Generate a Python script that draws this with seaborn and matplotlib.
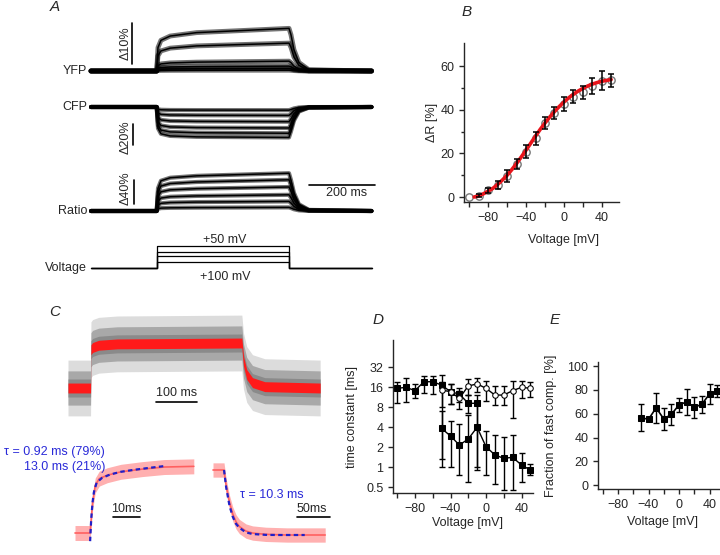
import pandas as pd
import matplotlib.pyplot as plt
import seaborn as sns

# %% DATA

# A - fluorescence traces (time in ms, change in %)
t_a = [0, 199, 203, 212, 240, 320, 600, 606, 615, 630, 660, 850]
yfp_shape = [0, 0, 0.55, 0.72, 0.82, 0.9, 1.0, 0.85, 0.5, 0.2, 0.03, 0]
cfp_shape = [0, 0, 0.7, 0.88, 0.95, 0.98, 1.0, 0.8, 0.45, 0.15, 0.02, 0]
ratio_shape = [0, 0, 0.6, 0.8, 0.88, 0.93, 1.0, 0.82, 0.48, 0.18, 0.03, 0]
yfp_levels = [10.4, 6.8, 2.4, 1.2, 0.6, 0.2]
cfp_levels = [-29, -25, -20, -14, -8, -3]
ratio_levels = [63, 52, 40, 27, 16, 6]
t_pulse = [0, 200, 200, 600, 600, 850]
hold_mv = -100
step_mv = [-60, -20, 10, 50]

# B - dR vs voltage
v_b = [-100, -90, -80, -70, -60, -50, -40, -30, -20, -10, 0, 10, 20, 30, 40, 50]
dr_b = [0, 0.6, 3.0, 5.6, 9.5, 15.0, 20.8, 27.0, 33.9, 38.5, 42.6, 46.0, 48.0, 51.0, 53.3, 53.4]
dr_err = [0, 0.6, 1.0, 1.8, 2.7, 2.4, 2.9, 3.0, 2.9, 2.7, 3.3, 3.0, 3.0, 3.6, 4.2, 3.0]
v_fit = [-95, -90, -85, -80, -75, -70, -65, -60, -55, -50, -45, -40, -35, -30, -25,
         -20, -15, -10, -5, 0, 5, 10, 15, 20, 25, 30, 35, 40, 45, 50]
dr_fit = [0, 0.5, 1.5, 2.7, 4.0, 5.8, 7.8, 10, 12.6, 15.4, 18.4, 21.5, 24.7, 27.9, 31,
          33.9, 36.6, 39.1, 41.4, 43.5, 45.4, 47, 48.5, 49.7, 50.8, 51.7, 52.4, 53, 53.4, 53.8]

# C - averaged trace (normalised)
t_c = [0, 55, 56, 60, 75, 120, 424, 428, 436, 450, 480, 615]
fret_c = [0, 0, 0.85, 0.9, 0.95, 0.98, 1.0, 0.6, 0.3, 0.12, 0.03, 0]
t_on = [0, 5.6, 6.5, 7.5, 9, 12, 17, 25, 33, 44]
on_trace = [0, 0, 0.45, 0.7, 0.8, 0.85, 0.9, 0.94, 0.97, 0.98]
t_on_fit = [5.6, 6.0, 6.5, 7.0, 8.0, 10, 13, 17, 22, 28, 33.3]
on_fit = [-0.12, 0.2, 0.45, 0.6, 0.74, 0.81, 0.86, 0.9, 0.93, 0.96, 0.985]
t_off = [0, 16.7, 20, 25, 30, 35, 40, 50, 60, 80, 112, 170]
off_trace = [1, 1, 0.75, 0.5, 0.32, 0.2, 0.13, 0.06, 0.03, 0.01, 0, 0]
t_off_fit = [16.7, 20, 25, 30, 35, 40, 50, 60, 80, 100, 139]
off_fit = [1, 0.73, 0.45, 0.28, 0.17, 0.11, 0.04, 0.015, 0.002, 0, 0]

# D - time constants
v_d1 = [-100, -90, -80, -70, -60, -50, -40, -30, -20, -10]
tau_1 = [15.3, 15.8, 14.1, 19.2, 19.2, 17.1, 13.6, 12.5, 9.1, 9.1]
tau_1_lo = [9.1, 9.5, 11.0, 13.0, 12.5, 1.0, 9.0, 9.5, 6.5, 1.0]
tau_1_hi = [19.2, 22.0, 17.5, 23.5, 23.5, 24.0, 17.5, 15.5, 12.0, 12.0]
v_d2 = [-50, -40, -30, -20, -10, 0, 10, 20, 30, 40, 50]
tau_slow = [14.4, 13.6, 10.8, 16.6, 17.8, 15.3, 12.1, 12.1, 14.1, 15.8, 15.3]
tau_slow_lo = [8.0, 9.0, 7.5, 12.0, 13.5, 10.0, 8.5, 8.5, 5.5, 11.0, 11.5]
tau_slow_hi = [19.0, 18.0, 14.0, 21.0, 22.0, 20.0, 16.5, 16.5, 20.0, 20.0, 19.0]
tau_fast = [3.8, 2.93, 2.14, 2.64, 3.96, 2.02, 1.52, 1.35, 1.4, 1.07, 0.9]
tau_fast_lo = [1.3, 1.0, 0.75, 0.6, 0.9, 0.75, 0.55, 0.45, 0.45, 0.6, 0.75]
tau_fast_hi = [7.0, 5.0, 4.5, 6.0, 8.5, 3.5, 3.0, 2.8, 3.0, 1.6, 1.1]

# E - fraction of fast component
v_e = [-50, -40, -30, -20, -10, 0, 10, 20, 30, 40, 50]
frac = [56.7, 55.3, 65, 55.6, 59.5, 67.4, 70, 65.4, 68, 76.6, 79]
frac_err = [11.6, 1, 12.4, 9, 8.7, 5.6, 10.8, 9, 7, 8.4, 5]

# %% STYLE
sns.set_style("ticks")
plt.rcParams["font.family"] = ["Liberation Sans", "DejaVu Sans"]
plt.rcParams["font.size"] = 9
plt.rcParams["axes.linewidth"] = 1.0
plt.rcParams["xtick.major.size"] = 3.5
plt.rcParams["ytick.major.size"] = 3.5
plt.rcParams["xtick.minor.size"] = 3.5
plt.rcParams["ytick.minor.size"] = 2
plt.rcParams["xtick.major.width"] = 1.0
plt.rcParams["ytick.major.width"] = 1.0
plt.rcParams["xtick.minor.width"] = 1.0
plt.rcParams["ytick.minor.width"] = 1.0
plt.rcParams["xtick.labelsize"] = 9
plt.rcParams["ytick.labelsize"] = 9

W, H = 720, 555
fig = plt.figure(figsize=(W / 100, H / 100), dpi=100)


def place(x0, y0, x1, y1):
    return fig.add_axes([x0 / W, 1 - y1 / H, (x1 - x0) / W, (y1 - y0) / H])


def span(p0, p1, pa, va, pb, vb):
    s = (vb - va) / (pb - pa)
    return (va + (p0 - pa) * s, va + (p1 - pa) * s)


def ftext(x, y, s, **kw):
    fig.text(x / W, 1 - y / H, s, **kw)


def bare(ax):
    ax.set_axis_off()


def neg(vals):
    return [str(v).replace("-", "\u2212") for v in vals]


# %% PANEL A
def trace_axes(y0, y1, pa, va, pb, vb):
    ax = place(60, y0, 380, y1)
    ax.set_xlim(span(60, 380, 91, 0, 289, 600))
    ax.set_ylim(span(y1, y0, pa, va, pb, vb))
    bare(ax)
    return ax


def traces(ax, levels, shape, band):
    for lv in levels:
        y = [lv * s for s in shape]
        ax.plot(t_a, y, color="black", lw=band, alpha=0.55, solid_joinstyle="round")
        sns.lineplot(x=t_a, y=y, color="black", lw=1.1, ax=ax, sort=False, estimator=None)


ax_y = trace_axes(15, 90, 71, 0, 30, 10)
traces(ax_y, yfp_levels, yfp_shape, 3.5)
ax_y.plot([124, 124], [1.7, 11.7], color="black", lw=1.2)
ax_y.text(106, 6.7, "Δ10%", rotation=90, ha="center", va="center", fontsize=9)

ax_cf = trace_axes(92, 160, 107, 0, 128, -20)
traces(ax_cf, cfp_levels, cfp_shape, 3.0)
ax_cf.plot([127, 127], [-16.2, -36.2], color="black", lw=1.2)
ax_cf.text(106, -28.6, "Δ20%", rotation=90, ha="center", va="center", fontsize=9)

ax_r = trace_axes(160, 225, 211, 0, 187, 40)
traces(ax_r, ratio_levels, ratio_shape, 3.0)
ax_r.plot([130, 130], [11.7, 51.7], color="black", lw=1.2)
ax_r.text(106, 38, "Δ40%", rotation=90, ha="center", va="center", fontsize=9)
ax_r.plot([662, 862], [43, 43], color="black", lw=1.2)
ax_r.text(773, 30, "200 ms", ha="center", va="center", fontsize=9)

ax_v = trace_axes(235, 285, 268, hold_mv, 246, 50)
for mv in step_mv:
    sns.lineplot(x=t_pulse, y=[hold_mv, hold_mv, mv, mv, hold_mv, hold_mv],
                 color="black", lw=0.9, ax=ax_v, sort=False, estimator=None)

ftext(87, 71, "YFP", ha="right", va="center")
ftext(87, 107, "CFP", ha="right", va="center")
ftext(87, 211, "Ratio", ha="right", va="center")
ftext(87, 268, "Voltage", ha="right", va="center")
ftext(225, 240, "+50 mV", ha="center", va="center")
ftext(225, 277, "+100 mV", ha="center", va="center")
ftext(50, 7, "A", ha="left", va="center", fontsize=11, style="italic")

# %% PANEL B
ax_b = place(464, 43, 619, 202)
ax_b.set_xlim(span(464, 619, 488.3, -80, 601.7, 40))
ax_b.set_ylim(span(202, 43, 197, 0, 66, 60))
sns.scatterplot(x=v_b, y=dr_b, marker="o", s=28, facecolor="white",
                edgecolor="#777777", linewidth=1, ax=ax_b, zorder=2)
sns.lineplot(x=v_fit, y=dr_fit, color="#e8141b", lw=2.6, ax=ax_b, zorder=3)
ax_b.errorbar(v_b[1:], dr_b[1:], yerr=dr_err[1:], fmt="none", ecolor="black",
              elinewidth=1.1, capsize=2.5, capthick=1.1, zorder=4)
ax_b.set_xticks([-80, -40, 0, 40])
ax_b.set_xticklabels(neg([-80, -40, 0, 40]))
ax_b.set_xticks([-100, -60, -20, 20], minor=True)
ax_b.set_yticks([0, 20, 40, 60])
ax_b.set_yticks([10, 30, 50], minor=True)
sns.despine(ax=ax_b)
ax_b.set_xlabel("Voltage [mV]")
ax_b.set_ylabel("ΔR [%]")
ax_b.xaxis.set_label_coords(0.64, -0.2)
ax_b.yaxis.set_label_coords(-0.17, 0.5)
ftext(467, 12, "B", ha="center", va="center", fontsize=11, style="italic")

# %% PANEL C
ax_c = place(60, 300, 330, 420)
ax_c.set_xlim(span(60, 330, 68, 0, 109, 100))
ax_c.set_ylim(span(420, 300, 388, 0, 343, 1))
bare(ax_c)
ax_c.fill_between(t_c, [v - 0.62 for v in fret_c], [v + 0.62 for v in fret_c],
                  color="#dcdcdc", lw=0)
ax_c.fill_between(t_c, [v - 0.38 for v in fret_c], [v + 0.38 for v in fret_c],
                  color="#a8a8a8", lw=0)
ax_c.fill_between(t_c, [v - 0.2 for v in fret_c], [v + 0.2 for v in fret_c],
                  color="#8a8a8a", lw=0)
ax_c.fill_between(t_c, [v - 0.11 for v in fret_c], [v + 0.11 for v in fret_c],
                  color="#ff1a1a", lw=0)
ax_c.plot([215, 315], [-0.31, -0.31], color="black", lw=1.2)
ax_c.text(265, -0.25, "100 ms", ha="center", va="bottom", fontsize=9)
ftext(55, 312, "C", ha="center", va="center", fontsize=11, style="italic")

ax_on = place(60, 430, 205, 555)
ax_on.set_xlim(span(60, 205, 75, 0, 102, 10))
ax_on.set_ylim(span(555, 430, 533, 0, 465, 1))
bare(ax_on)
ax_on.fill_between(t_on, [v - 0.11 for v in on_trace], [v + 0.11 for v in on_trace],
                   color="#ffb0b0", lw=0)
sns.lineplot(x=t_on, y=on_trace, color="#ff6060", lw=1.2, ax=ax_on, sort=False, estimator=None)
ax_on.plot(t_on_fit, on_fit, color="#2020c8", lw=1.6, dashes=(2, 1.5))
ax_on.plot([14.1, 24.1], [0.235, 0.235], color="black", lw=1.2)
ax_on.text(19.1, 0.27, "10ms", ha="center", va="bottom", fontsize=9)
ftext(105, 452, "τ = 0.92 ms (79%)", ha="right", va="center", color="#2a2ad8")
ftext(105, 467, "13.0 ms (21%)", ha="right", va="center", color="#2a2ad8")

ax_off = place(205, 430, 335, 555)
ax_off.set_xlim(span(205, 335, 213, 0, 246, 50))
ax_off.set_ylim(span(555, 430, 535, 0, 470, 1))
bare(ax_off)
ax_off.fill_between(t_off, [v - 0.11 for v in off_trace], [v + 0.11 for v in off_trace],
                    color="#ffb0b0", lw=0)
sns.lineplot(x=t_off, y=off_trace, color="#ff6060", lw=1.2, ax=ax_off, sort=False, estimator=None)
ax_off.plot(t_off_fit, off_fit, color="#2020c8", lw=1.6, dashes=(2, 1.5))
ax_off.plot([127, 177], [0.28, 0.28], color="black", lw=1.2)
ax_off.text(150, 0.31, "50ms", ha="center", va="bottom", fontsize=9)
ftext(272, 495, "τ = 10.3 ms", ha="center", va="center", color="#2a2ad8")

# %% PANEL D
ax_d = place(393, 340, 533, 493)
ax_d.set_yscale("log", base=2)
ax_d.set_xlim(span(393, 533, 486, 0, 521.5, 40))
lo, hi = span(493, 340, 467, 0, 447, 1)
ax_d.set_ylim(2 ** lo, 2 ** hi)
ax_d.errorbar(v_d1, tau_1, yerr=[[a - b for a, b in zip(tau_1, tau_1_lo)],
                                 [b - a for a, b in zip(tau_1, tau_1_hi)]],
              fmt="none", ecolor="black", elinewidth=1, capsize=2, capthick=1)
ax_d.errorbar(v_d2, tau_slow, yerr=[[a - b for a, b in zip(tau_slow, tau_slow_lo)],
                                    [b - a for a, b in zip(tau_slow, tau_slow_hi)]],
              fmt="none", ecolor="black", elinewidth=1, capsize=2, capthick=1)
ax_d.errorbar(v_d2, tau_fast, yerr=[[a - b for a, b in zip(tau_fast, tau_fast_lo)],
                                    [b - a for a, b in zip(tau_fast, tau_fast_hi)]],
              fmt="none", ecolor="black", elinewidth=1, capsize=2, capthick=1)
sns.lineplot(x=v_d1, y=tau_1, color="black", lw=1, marker="s", markersize=4,
             markeredgecolor="black", ax=ax_d)
sns.lineplot(x=v_d2, y=tau_fast, color="black", lw=1, marker="s", markersize=4,
             markeredgecolor="black", ax=ax_d)
sns.lineplot(x=v_d2, y=tau_slow, color="black", lw=1, marker="o", markersize=4,
             markerfacecolor="white", markeredgecolor="black", ax=ax_d)
ax_d.set_yticks([0.5, 1, 2, 4, 8, 16, 32])
ax_d.set_yticklabels(["0.5", "1", "2", "4", "8", "16", "32"])
ax_d.yaxis.set_minor_locator(plt.NullLocator())
ax_d.set_xticks([-80, -40, 0, 40])
ax_d.set_xticklabels(neg([-80, -40, 0, 40]))
ax_d.set_xticks([-100, -60, -20, 20], minor=True)
sns.despine(ax=ax_d)
ax_d.set_xlabel("Voltage [mV]")
ax_d.set_ylabel("time constant [ms]")
ax_d.xaxis.set_label_coords(0.53, -0.155)
ax_d.yaxis.set_label_coords(-0.25, 0.5)
ftext(378, 320, "D", ha="center", va="center", fontsize=11, style="italic")

# %% PANEL E
ax_e = place(598, 362, 720, 489)
ax_e.set_xlim(span(598, 720, 679, 0, 709.5, 40))
ax_e.set_ylim(span(489, 362, 485, 0, 390, 80))
ax_e.errorbar(v_e, frac, yerr=frac_err, fmt="none", ecolor="black",
              elinewidth=1, capsize=2, capthick=1)
sns.lineplot(x=v_e, y=frac, color="black", lw=1.2, marker="s", markersize=5,
             markeredgecolor="black", ax=ax_e)
ax_e.set_yticks([0, 20, 40, 60, 80, 100])
ax_e.set_xticks([-80, -40, 0, 40])
ax_e.set_xticklabels(neg([-80, -40, 0, 40]))
ax_e.set_xticks([-100, -60, -20, 20], minor=True)
sns.despine(ax=ax_e)
ax_e.set_xlabel("Voltage [mV]")
ax_e.set_ylabel("Fraction of fast comp. [%]")
ax_e.xaxis.set_label_coords(0.53, -0.21)
ax_e.yaxis.set_label_coords(-0.34, 0.5)
ftext(555, 320, "E", ha="center", va="center", fontsize=11, style="italic")

fig.savefig("out.png", dpi=100)
